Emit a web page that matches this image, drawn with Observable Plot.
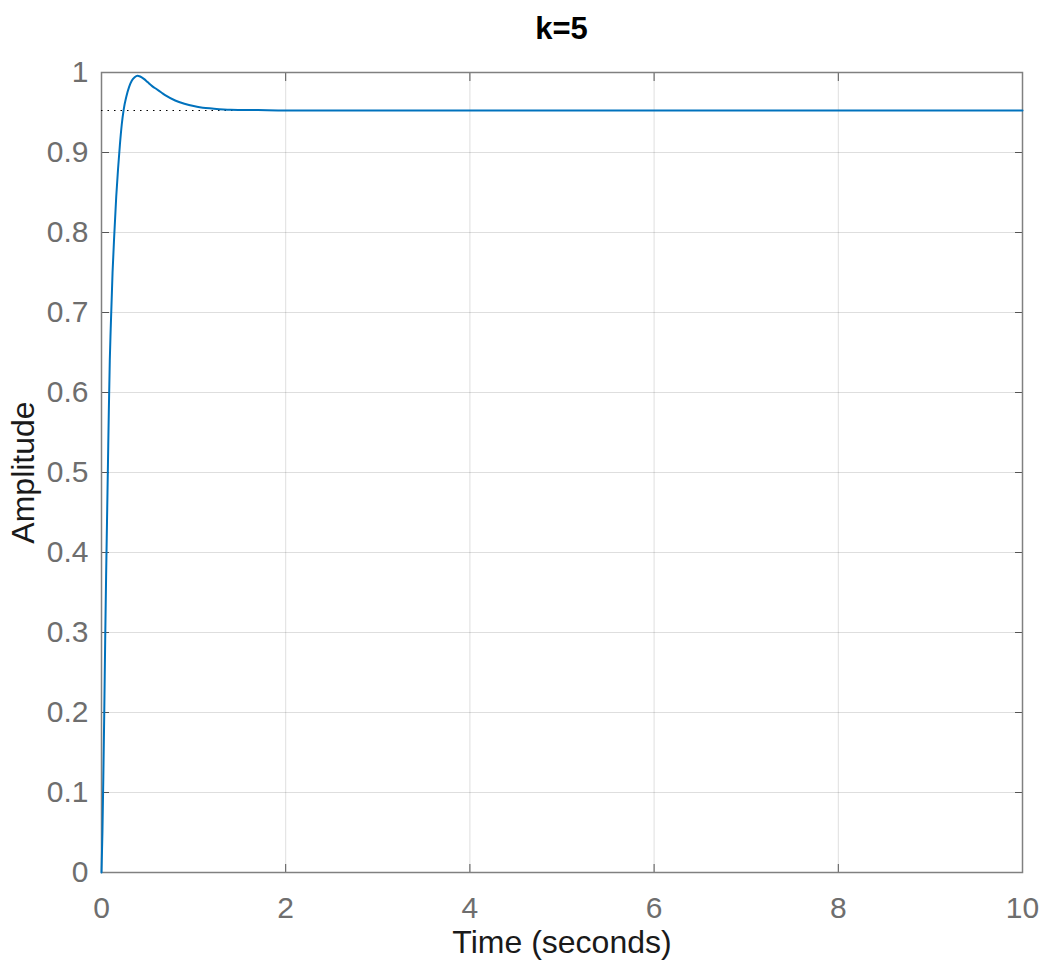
<!DOCTYPE html>
<html>
<head>
<meta charset="utf-8">
<script src="https://cdn.jsdelivr.net/npm/d3@7"></script>
<script src="https://cdn.jsdelivr.net/npm/@observablehq/plot@0.6"></script>
<style>
  html, body { margin: 0; padding: 0; background: #fff; }
  #title { width: 1042px; height: 50px; box-sizing: border-box; padding-left: 101px; padding-right: 20px;
    text-align: center; font-family: "Liberation Sans", Arial, sans-serif; font-weight: bold; font-size: 31px;
    line-height: 58px; color: #000; }
</style>
</head>
<body>
<div id="title">k=5</div>
<div id="chart"></div>
<script>
// Step response
const time = [0, 0.01, 0.02, 0.03, 0.04, 0.05, 0.06, 0.07, 0.08, 0.09, 0.10, 0.12, 0.14, 0.16, 0.18, 0.20, 0.22, 0.24, 0.27, 0.30, 0.33, 0.36, 0.39, 0.42, 0.46, 0.50, 0.55, 0.60, 0.65, 0.70, 0.80, 0.90, 1.00, 1.10, 1.20, 1.40, 1.70, 2.00, 2.50, 3.00, 4.00, 6.00, 8.00, 10.00];
const amplitude = [0, 0.05, 0.12, 0.20, 0.29, 0.37, 0.44, 0.51, 0.58, 0.64, 0.68, 0.75, 0.80, 0.845, 0.88, 0.91, 0.935, 0.953, 0.970, 0.982, 0.990, 0.994, 0.996, 0.995, 0.992, 0.988, 0.983, 0.979, 0.975, 0.971, 0.965, 0.961, 0.958, 0.956, 0.955, 0.9535, 0.953, 0.9525, 0.9525, 0.9525, 0.9525, 0.9525, 0.9525, 0.9525];
const steadyState = [{t0: 0, t1: 2.35, y: 0.9525}];
const xTicks = [0, 2, 4, 6, 8, 10];
const yTicks = [0, 0.1, 0.2, 0.3, 0.4, 0.5, 0.6, 0.7, 0.8, 0.9, 1];

const data = time.map((t, i) => ({t, a: amplitude[i]}));
const tickColor = "#6e6e6e";
const chart = Plot.plot({
  width: 1042,
  height: 922,
  marginLeft: 101,
  marginRight: 20,
  marginTop: 22,
  marginBottom: 100,
  style: {fontFamily: "'Liberation Sans', Arial, sans-serif", fontSize: "30px", background: "#fff"},
  x: {domain: [0, 10]},
  y: {domain: [0, 1]},
  marks: [
    Plot.gridX(xTicks, {stroke: "#000", strokeOpacity: 0.13}),
    Plot.gridY(yTicks, {stroke: "#000", strokeOpacity: 0.13}),
    Plot.axisX(xTicks, {anchor: "bottom", tickSize: 0, tickPadding: 24, fill: tickColor, label: "Time (seconds)", labelAnchor: "center", labelArrow: "none", labelOffset: 80, tickFormat: d => String(d)}),
    Plot.axisX(xTicks, {anchor: "bottom", tickSize: -8, text: null, label: null, stroke: "#555"}),
    Plot.axisX(xTicks, {anchor: "top", tickSize: -8, text: null, label: null, stroke: "#555"}),
    Plot.axisY(yTicks, {anchor: "left", tickSize: 0, tickPadding: 13, fill: tickColor, label: "Amplitude", labelAnchor: "center", labelArrow: "none", labelOffset: 90, tickFormat: d => String(d)}),
    Plot.axisY(yTicks, {anchor: "left", tickSize: -8, text: null, label: null, stroke: "#555"}),
    Plot.axisY(yTicks, {anchor: "right", tickSize: -8, text: null, label: null, stroke: "#555"}),
    Plot.frame({stroke: "#808080", strokeWidth: 1.5}),
    Plot.ruleY(steadyState, {x1: "t0", x2: "t1", y: "y", stroke: "#000", strokeWidth: 1.2, strokeDasharray: "1.5,5"}),
    Plot.line(data, {x: "t", y: "a", stroke: "#0072BD", strokeWidth: 2, curve: "monotone-x"})
  ]
});
document.getElementById("chart").appendChild(chart);
chart.querySelectorAll("[aria-label='x-axis label'] text, [aria-label='y-axis label'] text").forEach(t => { t.setAttribute("fill", "#1a1a1a"); t.style.fontSize = "32px"; });
</script>
</body>
</html>
